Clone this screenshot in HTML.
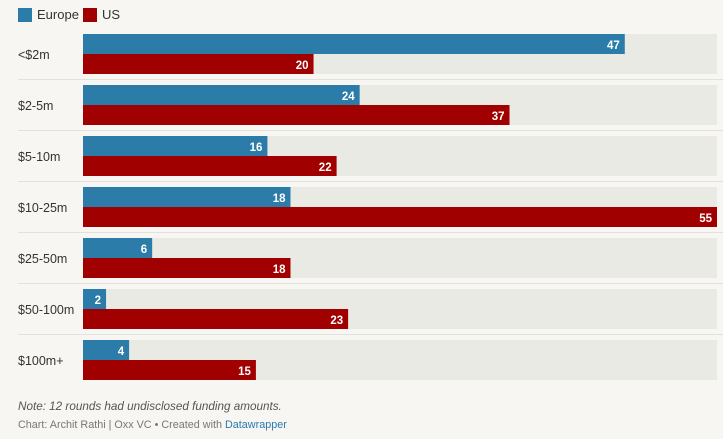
<!DOCTYPE html>
<html><head><meta charset="utf-8"><style>
body{margin:0;background:#f7f6f2;font-family:"Liberation Sans",sans-serif;width:723px;height:439px;overflow:hidden;position:relative}
.lg{position:absolute;top:7px;font-size:13px;color:#333;display:flex;align-items:center}
.sw{width:14px;height:14px;display:inline-block;margin-right:5px}
.note{position:absolute;left:18px;top:400px;font-size:11.7px;font-style:italic;color:#555}
.cred{position:absolute;left:18px;top:419px;font-size:10.8px;color:#777}
.cred span{color:#2a7ab0}
</style></head><body>
<div class="lg" style="left:18px"><i class="sw" style="background:#2b7ca8"></i>Europe</div>
<div class="lg" style="left:83px"><i class="sw" style="background:#a10000"></i>US</div>
<svg id="c" width="723" height="439" style="position:absolute;left:0;top:0"></svg>
<div class="note">Note: 12 rounds had undisclosed funding amounts.</div>
<div class="cred">Chart: Archit Rathi | Oxx VC • Created with <span>Datawrapper</span></div>
<script>
const categories=["<$2m","$2-5m","$5-10m","$10-25m","$25-50m","$50-100m","$100m+"];
const europe=[47,24,16,18,6,2,4];
const us=[20,37,22,55,18,23,15];
const maxV=55;
const svg=document.getElementById('c');
const NS='http://www.w3.org/2000/svg';
const x0=83,x1=717;
const xs=v=>(x1-x0)*v/maxV;
const rowY=i=>34+i*51;
function mk(t,a){const e=document.createElementNS(NS,t);for(const k in a)e.setAttribute(k,a[k]);svg.appendChild(e);return e;}
categories.forEach((c,i)=>{
  const y=rowY(i);
  const tr=mk('rect',{x:x0,y:y,width:x1-x0,height:40,fill:'#eaeae5'});
  
  
  const lb=mk('text',{x:18,y:y+25,'font-size':12.5,fill:'#333'});lb.textContent=c;
  
  
  if(i<categories.length-1){const ln=mk('line',{x1:18,x2:723,y1:y+45.5,y2:y+45.5,stroke:'#e2e2dc','stroke-width':1});
  
  }
  [[europe[i],'#2b7ca8',y,'bar-europe'],[us[i],'#a10000',y+20,'bar-us']].forEach(([v,col,yy,nm])=>{
    const w=xs(v);
    const r=mk('rect',{x:x0,y:yy,width:w,height:20,fill:col});
    
    
    const t=mk('text',{x:x0+w-5,y:yy+15,'font-size':11.5,'font-weight':'bold',fill:'#fff','text-anchor':'end'});t.textContent=v;
    
    
  });
});
</script>
</body></html>
